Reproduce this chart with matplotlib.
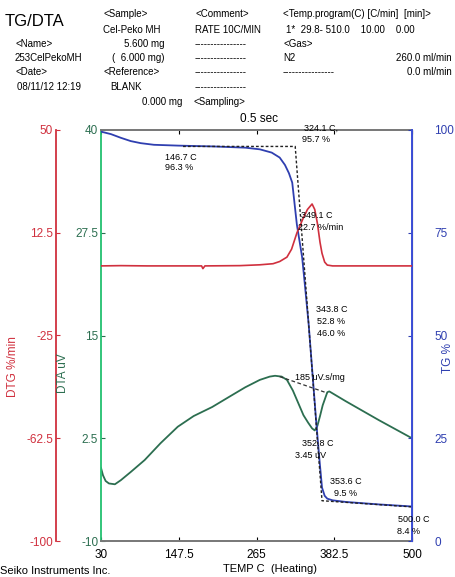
import matplotlib
matplotlib.use("Agg")
import matplotlib.pyplot as plt

plt.rcParams['font.family'] = ['Liberation Sans', 'DejaVu Sans']

# TG curve (% mass) vs temperature
tg_temp = [30, 45, 60, 75, 90, 110, 146.7, 200, 248, 270, 288, 300, 308, 314, 319,
           326, 334, 338, 343.8, 349, 355, 360, 364, 368, 372, 380, 400, 450, 500]
tg_pct = [99.6, 99.0, 98.1, 97.3, 96.8, 96.4, 96.2, 96.0, 95.7, 95.3, 94.5, 93.3, 91.5,
          89.5, 87.2, 77.0, 69.0, 62.5, 52.8, 42.0, 29.5, 20.0, 13.0, 11.0, 10.3, 9.9,
          9.5, 8.9, 8.4]

# DTG curve (%/min)
dtg_temp = [30, 60, 100, 150, 182, 184, 187, 240, 270, 290, 300, 311, 318, 326, 335,
            342, 349, 353, 357, 361, 364, 368, 372, 380, 420, 500]
dtg_val = [0.4, 0.5, 0.4, 0.4, 0.4, -0.6, 0.4, 0.5, 0.8, 1.2, 2.0, 3.6, 6.5, 12.4, 17.5,
           21.0, 23.0, 21.0, 16.0, 9.0, 5.0, 1.8, 0.7, 0.4, 0.4, 0.4]

# DTA curve (uV)
dta_temp = [30, 33, 37, 42, 51, 60, 75, 96, 120, 146, 170, 198, 225, 248, 270, 285, 293,
            303, 311, 320, 328, 336, 343, 349, 353, 357, 361, 365, 368.5, 372, 375, 400,
            450, 500]
dta_val = [-1.1, -2.0, -2.7, -3.0, -3.1, -2.6, -1.6, -0.15, 1.9, 3.9, 5.2, 6.3, 7.6, 8.7,
           9.6, 10.0, 10.1, 10.0, 9.6, 8.3, 6.8, 5.3, 4.4, 3.7, 3.45, 4.0, 5.2, 6.5, 7.3,
           8.1, 8.2, 7.0, 4.7, 2.5]

# construction lines
tg_step_temp = [154, 323.5, 364, 500]
tg_step_pct = [96.0, 96.0, 9.8, 8.3]
dta_base_temp = [300, 372]
dta_base_val = [10.0, 8.0]

x_ticks = [30, 147.5, 265, 382.5, 500]
dtg_ticks = [50, 12.5, -25, -62.5, -100]
dta_ticks = [40, 27.5, 15, 2.5, -10]
tg_ticks = [100, 75, 50, 25, 0]

RED = '#d0303e'
GREEN_AX = '#22c070'
GREEN = '#2c6e50'
BLUE = '#2f3fb0'
BLUE_AX = '#3c4fd8'

W, H = 455, 577
fig = plt.figure(figsize=(W / 100, H / 100), dpi=100)
fig.patch.set_facecolor('white')

ax = fig.add_axes([101 / W, 36 / H, 311 / W, 411 / H])
ax_tg = ax.twinx()
ax_dtg = ax.twinx()

# DTA (green, left spine)
ax.plot(dta_temp, dta_val, color=GREEN, lw=1.3)
ax.plot(dta_base_temp, dta_base_val, color='#333333', lw=0.9, ls=(0, (3, 2)))
ax.set_xlim(30, 500)
ax.set_ylim(-10, 40)
ax.set_yticks(dta_ticks)
ax.set_yticklabels(['40', '27.5', '15', '2.5', '-10'])
ax.tick_params(axis='y', direction='in', length=3, pad=2, colors=GREEN, labelsize=8.5)
ax.set_xticks(x_ticks)
ax.set_xticklabels(['30', '147.5', '265', '382.5', '500'])
ax.tick_params(axis='x', direction='in', length=3, pad=6, colors='black', labelsize=8.5,
               top=True)
ax.spines['left'].set_color(GREEN_AX)
ax.spines['left'].set_linewidth(1.3)
for s in ['top', 'bottom']:
    ax.spines[s].set_color('#777777')
    ax.spines[s].set_linewidth(1.4)

# TG (blue, right spine)
ax_tg.plot(tg_temp, tg_pct, color=BLUE, lw=1.3)
ax_tg.plot(tg_step_temp, tg_step_pct, color='#222222', lw=1.0, ls=(0, (2, 1.5)))
ax_tg.set_ylim(0, 100)
ax_tg.set_yticks(tg_ticks)
ax_tg.tick_params(axis='y', direction='in', length=3, pad=16, colors=BLUE, labelsize=8.5)
ax_tg.spines['right'].set_color(BLUE_AX)
ax_tg.spines['right'].set_linewidth(1.4)
for s in ['top', 'bottom', 'left']:
    ax_tg.spines[s].set_visible(False)

# DTG (red, offset left spine)
ax_dtg.plot(dtg_temp, dtg_val, color=RED, lw=1.2)
ax_dtg.set_ylim(-100, 50)
ax_dtg.yaxis.set_ticks_position('left')
ax_dtg.yaxis.set_label_position('left')
ax_dtg.spines['left'].set_visible(True)
ax_dtg.spines['left'].set_position(('axes', -45 / 311))
ax_dtg.spines['left'].set_color(RED)
ax_dtg.spines['left'].set_linewidth(1.3)
for s in ['top', 'bottom', 'right']:
    ax_dtg.spines[s].set_visible(False)
ax_dtg.set_yticks(dtg_ticks)
ax_dtg.set_yticklabels(['50', '12.5', '-25', '-62.5', '-100'])
ax_dtg.tick_params(axis='y', direction='in', length=3, pad=2, colors=RED, labelsize=8.5)


def put(x, y, s, size=7, ha='left', color='black', **kw):
    fig.text(x / W, 1 - y / H, s, fontsize=size, ha=ha, va='center', color=color, **kw)


# axis titles
put(13, 367, 'DTG %/min', size=8.5, ha='center', color=RED, rotation=90)
put(63, 373, 'DTA uV', size=8.5, ha='center', color=GREEN, rotation=90)
put(448, 358, 'TG %', size=8.5, ha='center', color=BLUE, rotation=90)
put(270, 569, 'TEMP C  (Heating)', size=8, ha='center')
put(0, 571, 'Seiko Instruments Inc.', size=8)
put(240, 119, '0.5 sec', size=8.5)

# header block
put(5, 21, 'TG/DTA', size=12)
put(103, 14, '<Sample>')
put(103, 30, 'Cel-Peko MH')
put(195, 14, '<Comment>')
put(195, 30, 'RATE 10C/MIN')
put(283, 14, '<Temp.program(C) [C/min]  [min]>')
put(286, 30, '1*  29.8- 510.0    10.00    0.00')
put(15, 44, '<Name>')
put(165, 44, '5.600 mg', ha='right')
put(283, 44, '<Gas>')
put(15, 58, '253CelPekoMH')
put(165, 58, '(  6.000 mg)', ha='right')
put(283, 58, 'N2')
put(452, 58, '260.0 ml/min', ha='right')
put(15, 72, '<Date>')
put(103, 72, '<Reference>')
put(283, 72, '----------------')
put(452, 72, '0.0 ml/min', ha='right')
put(17, 87, '08/11/12 12:19')
put(110, 87, 'BLANK')
put(182, 102, '0.000 mg', ha='right')
put(193, 102, '<Sampling>')
for yy in [44, 58, 72, 87]:
    put(195, yy, '----------------')

# curve annotations
put(165, 158, '146.7 C', size=6.5)
put(193, 168, '96.3 %', size=6.5, ha='right')
put(304, 128, '324.1 C,', size=6.5)
put(330, 140, '95.7 %', size=6.5, ha='right')
put(301, 216, '349.1 C', size=6.5)
put(298, 228, '22.7 %/min', size=6.5)
put(316, 310, '343.8 C', size=6.5)
put(345, 322, '52.8 %', size=6.5, ha='right')
put(345, 333, '46.0 %', size=6.5, ha='right')
put(295, 378, '185 uV.s/mg', size=6.5)
put(302, 443, '352.8 C', size=6.5)
put(326, 455, '3.45 uV', size=6.5, ha='right')
put(330, 482, '353.6 C', size=6.5)
put(357, 493, '9.5 %', size=6.5, ha='right')
put(398, 520, '500.0 C', size=6.5)
put(420, 531, '8.4 %', size=6.5, ha='right')

fig.savefig('out.png', dpi=100)
